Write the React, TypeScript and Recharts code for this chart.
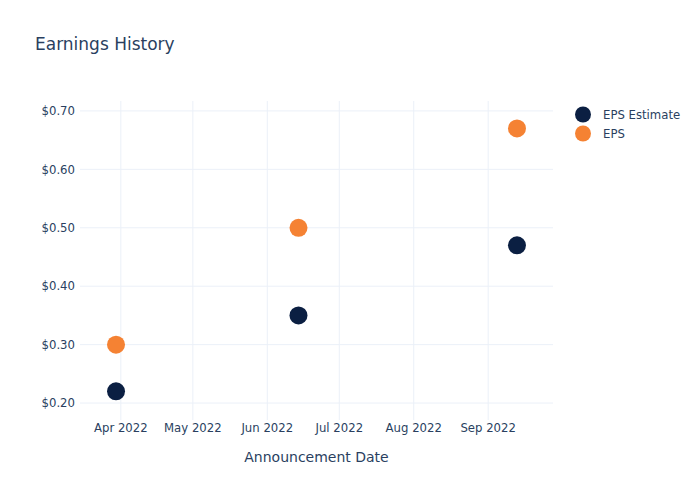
import React from 'react';
import { ScatterChart, Scatter, XAxis, YAxis, CartesianGrid, Label } from 'recharts';

const announcementDates = ['2022-03-30', '2022-06-14', '2022-09-13'];
const epsEstimate = [0.22, 0.35, 0.47];
const epsActual = [0.30, 0.50, 0.67];
const xTickDates = ['2022-04-01', '2022-05-01', '2022-06-01', '2022-07-01', '2022-08-01', '2022-09-01'];
const yTicks = [0.2, 0.3, 0.4, 0.5, 0.6, 0.7];
const xDomainDates = ['2022-03-15', '2022-09-28'];
const yDomain = [0.171, 0.717];
const seriesNames = ['EPS Estimate', 'EPS'];

const MONTHS = ['Jan', 'Feb', 'Mar', 'Apr', 'May', 'Jun', 'Jul', 'Aug', 'Sep', 'Oct', 'Nov', 'Dec'];
const toTs = (s: string) => new Date(s + 'T00:00:00Z').getTime();

const estimateData = announcementDates.map((d, i) => ({ x: toTs(d), y: epsEstimate[i] }));
const epsData = announcementDates.map((d, i) => ({ x: toTs(d), y: epsActual[i] }));

const NAVY = '#0b1f42';
const ORANGE = '#f58233';
const TEXT = '#2a3f5f';
const GRID = '#ebf0f8';
const FONT = '"DejaVu Sans", Verdana, Arial, sans-serif';

const Dot = (color: string) => (props: any) => (
  <circle cx={props.cx} cy={props.cy} r={9} fill={color} />
);

const legendItems = [
  { label: seriesNames[0], color: NAVY },
  { label: seriesNames[1], color: ORANGE },
];

export default function App() {
  return (
    <div style={{ position: 'absolute', left: 0, top: 0, width: 700, height: 500, background: '#fff' }}>
      <div
        style={{
          position: 'absolute',
          left: 35,
          top: 33,
          fontFamily: FONT,
          fontSize: 17,
          color: TEXT,
          lineHeight: '22px',
        }}
      >
        Earnings History
      </div>
      <div
        style={{
          position: 'absolute',
          left: 573,
          top: 105,
          fontFamily: FONT,
          fontSize: 11.7,
          color: TEXT,
          zIndex: 2,
        }}
      >
        {legendItems.map((it) => (
          <div key={it.label} style={{ display: 'flex', alignItems: 'center', height: 19 }}>
            <svg width={20} height={19}>
              <circle cx={10} cy={9.5} r={8} fill={it.color} />
            </svg>
            <span style={{ marginLeft: 10 }}>{it.label}</span>
          </div>
        ))}
      </div>
      <ScatterChart
        width={700}
        height={500}
        margin={{ top: 101, right: 147, left: 0, bottom: 0 }}
        style={{ fontFamily: FONT }}
      >
        <CartesianGrid stroke={GRID} strokeWidth={1} syncWithTicks />
        <XAxis
          type="number"
          dataKey="x"
          domain={[toTs(xDomainDates[0]), toTs(xDomainDates[1])]}
          ticks={xTickDates.map(toTs)}
          interval={0}
          tickFormatter={(v: number) => {
            const d = new Date(v);
            return `${MONTHS[d.getUTCMonth()]} ${d.getUTCFullYear()}`;
          }}
          axisLine={false}
          tickLine={false}
          tickSize={0}
          tickMargin={4}
          height={80}
          tick={{ fill: TEXT, fontSize: 11.7 }}
          allowDataOverflow
        >
          <Label value="Announcement Date" position="insideBottom" offset={38} fill={TEXT} fontSize={14} />
        </XAxis>
        <YAxis
          type="number"
          dataKey="y"
          domain={yDomain}
          ticks={yTicks}
          interval={0}
          tickFormatter={(v: number) => `$${v.toFixed(2)}`}
          axisLine={false}
          tickLine={false}
          tickSize={0}
          tickMargin={5}
          width={80}
          tick={{ fill: TEXT, fontSize: 11.7 }}
          allowDataOverflow
        />
        <Scatter name={seriesNames[0]} data={estimateData} fill={NAVY} shape={Dot(NAVY)} isAnimationActive={false} />
        <Scatter name={seriesNames[1]} data={epsData} fill={ORANGE} shape={Dot(ORANGE)} isAnimationActive={false} />
      </ScatterChart>
    </div>
  );
}
